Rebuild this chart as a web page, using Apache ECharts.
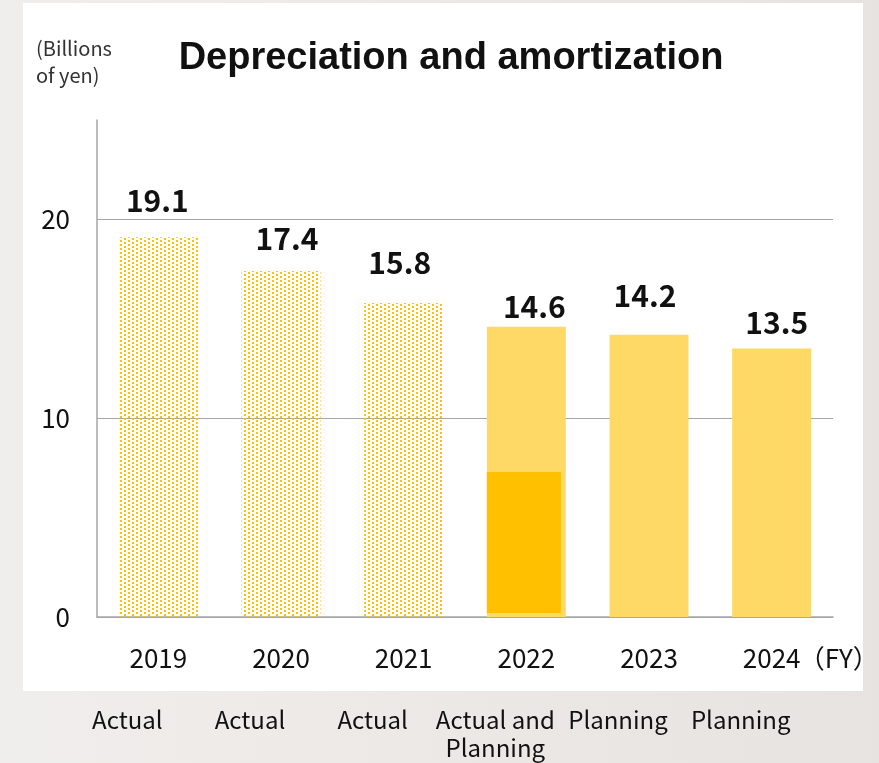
<!DOCTYPE html>
<html>
<head>
<meta charset="utf-8">
<script src="https://cdn.jsdelivr.net/npm/echarts@6/dist/echarts.min.js"></script>
<style>
  html, body { margin: 0; padding: 0; width: 879px; height: 763px; overflow: hidden;
    background: linear-gradient(90deg, #f0eeec 0%, #ebe7e4 60%, #e7e3e0 100%); }
  #panel { position: absolute; left: 23px; top: 3px; width: 840px; height: 688px; background: #ffffff; }
  #chart { position: absolute; left: 0; top: 0; width: 879px; height: 763px; }
</style>
</head>
<body>
<div id="panel"></div>
<div id="chart"></div>
<script>
// ---- data ----
const categories = ['2019', '2020', '2021', '2022', '2023', '2024'];
const totalValues = [19.1, 17.4, 15.8, 14.6, 14.2, 13.5];
const actualPortion = [null, null, null, 7.3, null, null];
const statusLabels = ['Actual', 'Actual', 'Actual', 'Actual and\nPlanning', 'Planning', 'Planning'];
const yMin = 0, yMax = 25, yInterval = 10;

// ---- style ----
const LIGHT = '#FFD966';
const DARK = '#FFC000';
const AXIS_GRAY = '#a6a6a6';
const CJK = '"Noto Sans CJK JP", "Noto Sans", sans-serif';
const BAR_W = 79;
const labelOffsets = [[-1, -17], [6, -12], [-4, -20], [8, 0], [-4, -19], [5, -6]];

// dotted pattern for actual-only years
function makeDots() {
  const c = document.createElement('canvas');
  c.width = 8; c.height = 4;
  const ctx = c.getContext('2d');
  ctx.fillStyle = DARK;
  ctx.fillRect(0, 0, 2, 2);
  ctx.fillRect(4, 2, 2, 2);
  return c;
}
const dotPattern = { image: makeDots(), repeat: 'repeat' };

const chart = echarts.init(document.getElementById('chart'), null, { renderer: 'canvas' });

const barData = totalValues.map((v, i) => ({
  value: v,
  itemStyle: { color: statusLabels[i] === 'Actual' ? dotPattern : LIGHT },
  label: { offset: labelOffsets[i] }
}));

const option = {
  backgroundColor: 'transparent',
  animation: false,
  grid: { left: 97, right: 46, top: 120, bottom: 146, containLabel: false },
  xAxis: {
    type: 'category',
    data: categories,
    axisLine: { show: true, lineStyle: { color: AXIS_GRAY, width: 1.5 } },
    axisTick: { show: false },
    axisLabel: { margin: 28, fontSize: 26, color: '#111', fontFamily: CJK }
  },
  yAxis: {
    type: 'value',
    min: yMin, max: yMax, interval: yInterval,
    axisLine: { show: true, lineStyle: { color: AXIS_GRAY, width: 1.5 } },
    axisTick: { show: false },
    axisLabel: { margin: 27, fontSize: 26, color: '#111', fontFamily: CJK, showMaxLabel: false },
    splitLine: { show: true, showMaxLine: false, lineStyle: { color: AXIS_GRAY, width: 1 } }
  },
  series: [
    {
      type: 'bar',
      data: barData,
      barWidth: BAR_W,
      z: 2,
      label: {
        show: true, position: 'top', distance: 5,
        fontSize: 30, fontWeight: 'bold', color: '#111', fontFamily: CJK
      }
    },
    {
      type: 'custom',
      z: 3,
      data: actualPortion.map((v, i) => [i, v]),
      renderItem: function (params, api) {
        const v = api.value(1);
        if (v == null || isNaN(v)) return null;
        const top = api.coord([api.value(0), v]);
        const base = api.coord([api.value(0), 0]);
        const left = top[0] - BAR_W / 2;
        return {
          type: 'rect',
          shape: { x: left, y: top[1], width: BAR_W - 5, height: base[1] - 4 - top[1] },
          style: { fill: DARK }
        };
      }
    }
  ],
  graphic: []
};
chart.setOption(option);

// overlay texts
const graphics = [
  {
    type: 'text', x: 451, y: 59,
    style: { text: 'Depreciation and amortization', fill: '#111',
      font: 'bold 38px "Liberation Sans", Arial, sans-serif', textAlign: 'center', textVerticalAlign: 'middle' }
  },
  {
    type: 'text', x: 36, y: 35,
    style: { text: '(Billions\nof yen)', fill: '#333', fontSize: 20, lineHeight: 27, fontFamily: CJK }
  }
];
const lastPx = chart.convertToPixel({ xAxisIndex: 0, yAxisIndex: 0 }, [categories.length - 1, 0]);
graphics.push({
  type: 'text', x: lastPx[0] + 27, y: 658,
  style: { text: '（FY）', fill: '#111', fontSize: 26, fontFamily: CJK, textAlign: 'left', textVerticalAlign: 'middle' }
});
categories.forEach((c, i) => {
  const px = chart.convertToPixel({ xAxisIndex: 0, yAxisIndex: 0 }, [i, 0]);
  graphics.push({
    type: 'text', x: px[0] - 31, y: 706,
    style: { text: statusLabels[i], fill: '#111', fontSize: 24, lineHeight: 28, fontFamily: CJK,
      textAlign: 'center', textVerticalAlign: 'top' }
  });
});
chart.setOption({ graphic: graphics });
</script>
</body>
</html>
